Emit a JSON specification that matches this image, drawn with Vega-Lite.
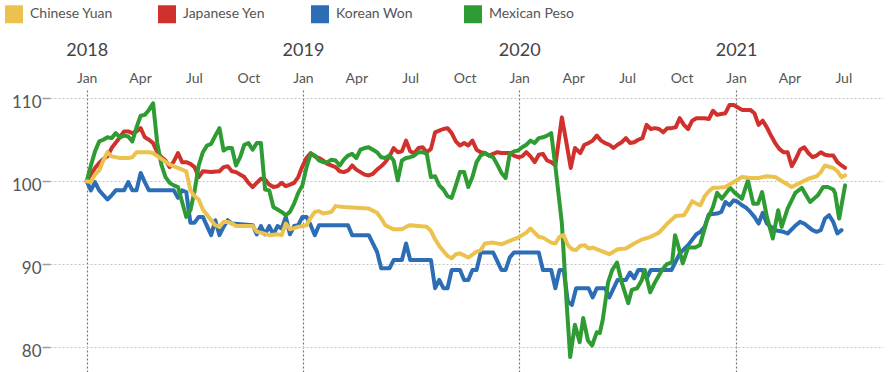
{
 "$schema": "https://vega.github.io/schema/vega-lite/v6.json",
 "width": 833,
 "height": 282,
 "autosize": {"type": "none"},
 "padding": {"left": 50, "top": 90, "right": 9, "bottom": 0},
 "background": "white",
 "config": {"view": {"stroke": null}, "font": "Lato"},
 "data": {"values": [
{"s":"Korean Won","d":"2018-01-01","v":100},
{"s":"Korean Won","d":"2018-01-08","v":98.9},
{"s":"Korean Won","d":"2018-01-15","v":99.9},
{"s":"Korean Won","d":"2018-01-22","v":98.9},
{"s":"Korean Won","d":"2018-02-05","v":97.8},
{"s":"Korean Won","d":"2018-02-12","v":98.3},
{"s":"Korean Won","d":"2018-02-19","v":98.9},
{"s":"Korean Won","d":"2018-03-05","v":98.9},
{"s":"Korean Won","d":"2018-03-12","v":99.9},
{"s":"Korean Won","d":"2018-03-19","v":98.9},
{"s":"Korean Won","d":"2018-03-26","v":98.9},
{"s":"Korean Won","d":"2018-04-02","v":101},
{"s":"Korean Won","d":"2018-04-09","v":99.9},
{"s":"Korean Won","d":"2018-04-16","v":98.9},
{"s":"Korean Won","d":"2018-05-28","v":98.9},
{"s":"Korean Won","d":"2018-06-04","v":98},
{"s":"Korean Won","d":"2018-06-11","v":98.9},
{"s":"Korean Won","d":"2018-06-18","v":98.7},
{"s":"Korean Won","d":"2018-06-25","v":95},
{"s":"Korean Won","d":"2018-07-02","v":95},
{"s":"Korean Won","d":"2018-07-09","v":95.7},
{"s":"Korean Won","d":"2018-07-16","v":95.7},
{"s":"Korean Won","d":"2018-07-30","v":93.5},
{"s":"Korean Won","d":"2018-08-06","v":95.3},
{"s":"Korean Won","d":"2018-08-13","v":93.5},
{"s":"Korean Won","d":"2018-08-20","v":94.5},
{"s":"Korean Won","d":"2018-08-27","v":95.3},
{"s":"Korean Won","d":"2018-09-03","v":94.9},
{"s":"Korean Won","d":"2018-10-08","v":94.7},
{"s":"Korean Won","d":"2018-10-15","v":93.6},
{"s":"Korean Won","d":"2018-10-22","v":94.6},
{"s":"Korean Won","d":"2018-10-29","v":93.6},
{"s":"Korean Won","d":"2018-11-05","v":94.6},
{"s":"Korean Won","d":"2018-11-12","v":93.6},
{"s":"Korean Won","d":"2018-11-19","v":94.6},
{"s":"Korean Won","d":"2018-11-26","v":94.3},
{"s":"Korean Won","d":"2018-12-03","v":95.7},
{"s":"Korean Won","d":"2018-12-10","v":93.6},
{"s":"Korean Won","d":"2018-12-17","v":94.6},
{"s":"Korean Won","d":"2018-12-24","v":94.7},
{"s":"Korean Won","d":"2018-12-31","v":95.7},
{"s":"Korean Won","d":"2019-01-07","v":95.7},
{"s":"Korean Won","d":"2019-01-14","v":94.7},
{"s":"Korean Won","d":"2019-01-21","v":93.5},
{"s":"Korean Won","d":"2019-01-28","v":94.7},
{"s":"Korean Won","d":"2019-03-18","v":94.7},
{"s":"Korean Won","d":"2019-03-25","v":93.5},
{"s":"Korean Won","d":"2019-04-22","v":93.5},
{"s":"Korean Won","d":"2019-05-06","v":91.5},
{"s":"Korean Won","d":"2019-05-13","v":89.5},
{"s":"Korean Won","d":"2019-05-27","v":89.5},
{"s":"Korean Won","d":"2019-06-03","v":90.5},
{"s":"Korean Won","d":"2019-06-17","v":90.5},
{"s":"Korean Won","d":"2019-06-24","v":92.5},
{"s":"Korean Won","d":"2019-07-01","v":90.5},
{"s":"Korean Won","d":"2019-08-05","v":90.5},
{"s":"Korean Won","d":"2019-08-12","v":87.1},
{"s":"Korean Won","d":"2019-08-19","v":88.1},
{"s":"Korean Won","d":"2019-08-26","v":87.1},
{"s":"Korean Won","d":"2019-09-02","v":87.1},
{"s":"Korean Won","d":"2019-09-09","v":89.3},
{"s":"Korean Won","d":"2019-09-23","v":89.3},
{"s":"Korean Won","d":"2019-09-30","v":88.1},
{"s":"Korean Won","d":"2019-10-07","v":88.1},
{"s":"Korean Won","d":"2019-10-14","v":89.3},
{"s":"Korean Won","d":"2019-10-21","v":89.3},
{"s":"Korean Won","d":"2019-10-28","v":91.4},
{"s":"Korean Won","d":"2019-11-18","v":91.4},
{"s":"Korean Won","d":"2019-12-02","v":89.3},
{"s":"Korean Won","d":"2019-12-09","v":89.3},
{"s":"Korean Won","d":"2019-12-16","v":90.8},
{"s":"Korean Won","d":"2019-12-23","v":91.4},
{"s":"Korean Won","d":"2020-02-03","v":91.4},
{"s":"Korean Won","d":"2020-02-10","v":89.3},
{"s":"Korean Won","d":"2020-02-24","v":89.3},
{"s":"Korean Won","d":"2020-03-02","v":87.1},
{"s":"Korean Won","d":"2020-03-09","v":89.3},
{"s":"Korean Won","d":"2020-03-16","v":89.3},
{"s":"Korean Won","d":"2020-03-23","v":85.5},
{"s":"Korean Won","d":"2020-03-30","v":85.1},
{"s":"Korean Won","d":"2020-04-06","v":87.1},
{"s":"Korean Won","d":"2020-04-27","v":87.1},
{"s":"Korean Won","d":"2020-05-04","v":86},
{"s":"Korean Won","d":"2020-05-11","v":87.1},
{"s":"Korean Won","d":"2020-05-25","v":87.1},
{"s":"Korean Won","d":"2020-06-01","v":86},
{"s":"Korean Won","d":"2020-06-15","v":88.1},
{"s":"Korean Won","d":"2020-06-29","v":88.1},
{"s":"Korean Won","d":"2020-07-06","v":89},
{"s":"Korean Won","d":"2020-07-13","v":88.3},
{"s":"Korean Won","d":"2020-07-20","v":89.3},
{"s":"Korean Won","d":"2020-07-27","v":89.3},
{"s":"Korean Won","d":"2020-08-03","v":88.3},
{"s":"Korean Won","d":"2020-08-10","v":89.3},
{"s":"Korean Won","d":"2020-09-14","v":89.3},
{"s":"Korean Won","d":"2020-09-21","v":90.3},
{"s":"Korean Won","d":"2020-09-28","v":91.3},
{"s":"Korean Won","d":"2020-10-05","v":91.8},
{"s":"Korean Won","d":"2020-10-12","v":92.3},
{"s":"Korean Won","d":"2020-10-26","v":93.6},
{"s":"Korean Won","d":"2020-11-02","v":93.9},
{"s":"Korean Won","d":"2020-11-09","v":94.5},
{"s":"Korean Won","d":"2020-11-16","v":96},
{"s":"Korean Won","d":"2020-11-30","v":96.1},
{"s":"Korean Won","d":"2020-12-07","v":96.3},
{"s":"Korean Won","d":"2020-12-14","v":97.5},
{"s":"Korean Won","d":"2020-12-21","v":97.1},
{"s":"Korean Won","d":"2020-12-28","v":97.7},
{"s":"Korean Won","d":"2021-01-04","v":97.5},
{"s":"Korean Won","d":"2021-01-11","v":97.1},
{"s":"Korean Won","d":"2021-01-18","v":96.8},
{"s":"Korean Won","d":"2021-01-25","v":96.3},
{"s":"Korean Won","d":"2021-02-01","v":95.7},
{"s":"Korean Won","d":"2021-02-08","v":94.9},
{"s":"Korean Won","d":"2021-02-15","v":96.2},
{"s":"Korean Won","d":"2021-02-22","v":94.9},
{"s":"Korean Won","d":"2021-03-01","v":94.5},
{"s":"Korean Won","d":"2021-03-08","v":94.1},
{"s":"Korean Won","d":"2021-03-22","v":93.9},
{"s":"Korean Won","d":"2021-03-29","v":93.7},
{"s":"Korean Won","d":"2021-04-12","v":94.7},
{"s":"Korean Won","d":"2021-04-19","v":95.1},
{"s":"Korean Won","d":"2021-04-26","v":94.9},
{"s":"Korean Won","d":"2021-05-03","v":94.5},
{"s":"Korean Won","d":"2021-05-10","v":94.1},
{"s":"Korean Won","d":"2021-05-17","v":93.9},
{"s":"Korean Won","d":"2021-05-24","v":94.1},
{"s":"Korean Won","d":"2021-05-31","v":95.5},
{"s":"Korean Won","d":"2021-06-07","v":95.9},
{"s":"Korean Won","d":"2021-06-14","v":95.1},
{"s":"Korean Won","d":"2021-06-21","v":93.7},
{"s":"Korean Won","d":"2021-06-28","v":94.1},
{"s":"Japanese Yen","d":"2018-01-01","v":100},
{"s":"Japanese Yen","d":"2018-01-15","v":101.6},
{"s":"Japanese Yen","d":"2018-01-22","v":102.2},
{"s":"Japanese Yen","d":"2018-01-29","v":102.7},
{"s":"Japanese Yen","d":"2018-02-05","v":103},
{"s":"Japanese Yen","d":"2018-02-12","v":104},
{"s":"Japanese Yen","d":"2018-02-26","v":105.3},
{"s":"Japanese Yen","d":"2018-03-05","v":106},
{"s":"Japanese Yen","d":"2018-03-12","v":106},
{"s":"Japanese Yen","d":"2018-03-19","v":105.8},
{"s":"Japanese Yen","d":"2018-03-26","v":106},
{"s":"Japanese Yen","d":"2018-04-02","v":106.4},
{"s":"Japanese Yen","d":"2018-04-09","v":105.3},
{"s":"Japanese Yen","d":"2018-04-16","v":105},
{"s":"Japanese Yen","d":"2018-04-23","v":104.6},
{"s":"Japanese Yen","d":"2018-04-30","v":103.5},
{"s":"Japanese Yen","d":"2018-05-07","v":102.9},
{"s":"Japanese Yen","d":"2018-05-14","v":102.5},
{"s":"Japanese Yen","d":"2018-05-21","v":101.7},
{"s":"Japanese Yen","d":"2018-05-28","v":102.4},
{"s":"Japanese Yen","d":"2018-06-04","v":103.4},
{"s":"Japanese Yen","d":"2018-06-11","v":102.3},
{"s":"Japanese Yen","d":"2018-06-18","v":102.3},
{"s":"Japanese Yen","d":"2018-06-25","v":102.1},
{"s":"Japanese Yen","d":"2018-07-02","v":101.7},
{"s":"Japanese Yen","d":"2018-07-09","v":100.5},
{"s":"Japanese Yen","d":"2018-07-16","v":101.2},
{"s":"Japanese Yen","d":"2018-07-30","v":101.1},
{"s":"Japanese Yen","d":"2018-08-13","v":101.2},
{"s":"Japanese Yen","d":"2018-08-20","v":101.7},
{"s":"Japanese Yen","d":"2018-08-27","v":101.8},
{"s":"Japanese Yen","d":"2018-09-03","v":101.2},
{"s":"Japanese Yen","d":"2018-09-10","v":101.1},
{"s":"Japanese Yen","d":"2018-09-24","v":100.5},
{"s":"Japanese Yen","d":"2018-10-01","v":99.8},
{"s":"Japanese Yen","d":"2018-10-08","v":99.3},
{"s":"Japanese Yen","d":"2018-10-15","v":99.8},
{"s":"Japanese Yen","d":"2018-10-22","v":100.3},
{"s":"Japanese Yen","d":"2018-10-29","v":100.2},
{"s":"Japanese Yen","d":"2018-11-05","v":99.6},
{"s":"Japanese Yen","d":"2018-11-12","v":99.3},
{"s":"Japanese Yen","d":"2018-11-19","v":99.4},
{"s":"Japanese Yen","d":"2018-11-26","v":99.8},
{"s":"Japanese Yen","d":"2018-12-03","v":99.4},
{"s":"Japanese Yen","d":"2018-12-10","v":99.6},
{"s":"Japanese Yen","d":"2018-12-17","v":99.8},
{"s":"Japanese Yen","d":"2018-12-24","v":100.5},
{"s":"Japanese Yen","d":"2018-12-31","v":101.8},
{"s":"Japanese Yen","d":"2019-01-07","v":102.8},
{"s":"Japanese Yen","d":"2019-01-14","v":103.4},
{"s":"Japanese Yen","d":"2019-01-21","v":103},
{"s":"Japanese Yen","d":"2019-01-28","v":102.8},
{"s":"Japanese Yen","d":"2019-02-04","v":102.5},
{"s":"Japanese Yen","d":"2019-02-11","v":102.1},
{"s":"Japanese Yen","d":"2019-02-25","v":101.7},
{"s":"Japanese Yen","d":"2019-03-04","v":101.2},
{"s":"Japanese Yen","d":"2019-03-11","v":101.1},
{"s":"Japanese Yen","d":"2019-03-18","v":101.3},
{"s":"Japanese Yen","d":"2019-03-25","v":101.9},
{"s":"Japanese Yen","d":"2019-04-01","v":101.4},
{"s":"Japanese Yen","d":"2019-04-08","v":101.1},
{"s":"Japanese Yen","d":"2019-04-15","v":100.8},
{"s":"Japanese Yen","d":"2019-04-22","v":100.7},
{"s":"Japanese Yen","d":"2019-04-29","v":100.9},
{"s":"Japanese Yen","d":"2019-05-06","v":101.4},
{"s":"Japanese Yen","d":"2019-05-13","v":101.8},
{"s":"Japanese Yen","d":"2019-05-20","v":102.3},
{"s":"Japanese Yen","d":"2019-05-27","v":103},
{"s":"Japanese Yen","d":"2019-06-03","v":104},
{"s":"Japanese Yen","d":"2019-06-10","v":103.5},
{"s":"Japanese Yen","d":"2019-06-17","v":103.6},
{"s":"Japanese Yen","d":"2019-06-24","v":104.9},
{"s":"Japanese Yen","d":"2019-07-01","v":103.6},
{"s":"Japanese Yen","d":"2019-07-08","v":103.4},
{"s":"Japanese Yen","d":"2019-07-15","v":104},
{"s":"Japanese Yen","d":"2019-07-22","v":104.1},
{"s":"Japanese Yen","d":"2019-07-29","v":103.5},
{"s":"Japanese Yen","d":"2019-08-05","v":103.9},
{"s":"Japanese Yen","d":"2019-08-12","v":105.9},
{"s":"Japanese Yen","d":"2019-08-19","v":106.1},
{"s":"Japanese Yen","d":"2019-08-26","v":106.3},
{"s":"Japanese Yen","d":"2019-09-02","v":106.4},
{"s":"Japanese Yen","d":"2019-09-09","v":105.8},
{"s":"Japanese Yen","d":"2019-09-16","v":104.8},
{"s":"Japanese Yen","d":"2019-09-23","v":104.3},
{"s":"Japanese Yen","d":"2019-09-30","v":104.6},
{"s":"Japanese Yen","d":"2019-10-07","v":104.3},
{"s":"Japanese Yen","d":"2019-10-14","v":104.9},
{"s":"Japanese Yen","d":"2019-10-21","v":103.8},
{"s":"Japanese Yen","d":"2019-10-28","v":103.5},
{"s":"Japanese Yen","d":"2019-11-04","v":103.4},
{"s":"Japanese Yen","d":"2019-11-11","v":103.1},
{"s":"Japanese Yen","d":"2019-11-18","v":103.3},
{"s":"Japanese Yen","d":"2019-11-25","v":103.5},
{"s":"Japanese Yen","d":"2019-12-02","v":103.4},
{"s":"Japanese Yen","d":"2019-12-16","v":103.4},
{"s":"Japanese Yen","d":"2019-12-23","v":103.1},
{"s":"Japanese Yen","d":"2019-12-30","v":102.9},
{"s":"Japanese Yen","d":"2020-01-06","v":103},
{"s":"Japanese Yen","d":"2020-01-13","v":103.5},
{"s":"Japanese Yen","d":"2020-01-20","v":103},
{"s":"Japanese Yen","d":"2020-01-27","v":102.3},
{"s":"Japanese Yen","d":"2020-02-03","v":103.2},
{"s":"Japanese Yen","d":"2020-02-10","v":103.3},
{"s":"Japanese Yen","d":"2020-02-17","v":102.5},
{"s":"Japanese Yen","d":"2020-02-24","v":102.3},
{"s":"Japanese Yen","d":"2020-03-02","v":101.9},
{"s":"Japanese Yen","d":"2020-03-13","v":107.7},
{"s":"Japanese Yen","d":"2020-03-21","v":104.5},
{"s":"Japanese Yen","d":"2020-03-28","v":101.6},
{"s":"Japanese Yen","d":"2020-04-04","v":104},
{"s":"Japanese Yen","d":"2020-04-13","v":103.4},
{"s":"Japanese Yen","d":"2020-04-20","v":104.4},
{"s":"Japanese Yen","d":"2020-04-27","v":104.6},
{"s":"Japanese Yen","d":"2020-05-04","v":104.9},
{"s":"Japanese Yen","d":"2020-05-11","v":105.5},
{"s":"Japanese Yen","d":"2020-05-18","v":104.9},
{"s":"Japanese Yen","d":"2020-05-25","v":104.6},
{"s":"Japanese Yen","d":"2020-06-01","v":104.4},
{"s":"Japanese Yen","d":"2020-06-08","v":104},
{"s":"Japanese Yen","d":"2020-06-15","v":104.4},
{"s":"Japanese Yen","d":"2020-06-22","v":104.7},
{"s":"Japanese Yen","d":"2020-06-29","v":105.2},
{"s":"Japanese Yen","d":"2020-07-06","v":104.6},
{"s":"Japanese Yen","d":"2020-07-13","v":104.7},
{"s":"Japanese Yen","d":"2020-07-20","v":105},
{"s":"Japanese Yen","d":"2020-07-27","v":105.2},
{"s":"Japanese Yen","d":"2020-08-03","v":106.8},
{"s":"Japanese Yen","d":"2020-08-10","v":106.3},
{"s":"Japanese Yen","d":"2020-08-17","v":106.4},
{"s":"Japanese Yen","d":"2020-08-24","v":106.3},
{"s":"Japanese Yen","d":"2020-08-31","v":105.9},
{"s":"Japanese Yen","d":"2020-09-07","v":106.4},
{"s":"Japanese Yen","d":"2020-09-14","v":106.4},
{"s":"Japanese Yen","d":"2020-09-21","v":106.5},
{"s":"Japanese Yen","d":"2020-09-28","v":107.6},
{"s":"Japanese Yen","d":"2020-10-05","v":106.8},
{"s":"Japanese Yen","d":"2020-10-12","v":106.3},
{"s":"Japanese Yen","d":"2020-10-19","v":107.3},
{"s":"Japanese Yen","d":"2020-10-26","v":107.6},
{"s":"Japanese Yen","d":"2020-11-02","v":107.6},
{"s":"Japanese Yen","d":"2020-11-09","v":107.6},
{"s":"Japanese Yen","d":"2020-11-16","v":107.5},
{"s":"Japanese Yen","d":"2020-11-23","v":108.5},
{"s":"Japanese Yen","d":"2020-11-30","v":108},
{"s":"Japanese Yen","d":"2020-12-07","v":108.1},
{"s":"Japanese Yen","d":"2020-12-14","v":108.2},
{"s":"Japanese Yen","d":"2020-12-21","v":109.2},
{"s":"Japanese Yen","d":"2020-12-28","v":109.2},
{"s":"Japanese Yen","d":"2021-01-04","v":108.9},
{"s":"Japanese Yen","d":"2021-01-11","v":108.6},
{"s":"Japanese Yen","d":"2021-01-18","v":108.6},
{"s":"Japanese Yen","d":"2021-01-25","v":108.6},
{"s":"Japanese Yen","d":"2021-02-01","v":108.2},
{"s":"Japanese Yen","d":"2021-02-08","v":106.8},
{"s":"Japanese Yen","d":"2021-02-15","v":107.3},
{"s":"Japanese Yen","d":"2021-02-22","v":106.5},
{"s":"Japanese Yen","d":"2021-03-01","v":105.5},
{"s":"Japanese Yen","d":"2021-03-08","v":104.6},
{"s":"Japanese Yen","d":"2021-03-15","v":103.9},
{"s":"Japanese Yen","d":"2021-03-22","v":103.5},
{"s":"Japanese Yen","d":"2021-03-29","v":103.5},
{"s":"Japanese Yen","d":"2021-04-05","v":101.8},
{"s":"Japanese Yen","d":"2021-04-12","v":102.7},
{"s":"Japanese Yen","d":"2021-04-19","v":103.8},
{"s":"Japanese Yen","d":"2021-04-26","v":104.1},
{"s":"Japanese Yen","d":"2021-05-03","v":103.4},
{"s":"Japanese Yen","d":"2021-05-10","v":102.9},
{"s":"Japanese Yen","d":"2021-05-17","v":103.1},
{"s":"Japanese Yen","d":"2021-05-24","v":103.5},
{"s":"Japanese Yen","d":"2021-05-31","v":103.2},
{"s":"Japanese Yen","d":"2021-06-07","v":103.1},
{"s":"Japanese Yen","d":"2021-06-14","v":103.1},
{"s":"Japanese Yen","d":"2021-06-21","v":102.3},
{"s":"Japanese Yen","d":"2021-06-28","v":101.9},
{"s":"Japanese Yen","d":"2021-07-04","v":101.6},
{"s":"Mexican Peso","d":"2018-01-01","v":100},
{"s":"Mexican Peso","d":"2018-01-08","v":101.9},
{"s":"Mexican Peso","d":"2018-01-15","v":103.6},
{"s":"Mexican Peso","d":"2018-01-22","v":104.8},
{"s":"Mexican Peso","d":"2018-01-29","v":105},
{"s":"Mexican Peso","d":"2018-02-05","v":105.3},
{"s":"Mexican Peso","d":"2018-02-12","v":105.2},
{"s":"Mexican Peso","d":"2018-02-19","v":105.8},
{"s":"Mexican Peso","d":"2018-02-26","v":105.3},
{"s":"Mexican Peso","d":"2018-03-05","v":105.5},
{"s":"Mexican Peso","d":"2018-03-12","v":105.4},
{"s":"Mexican Peso","d":"2018-03-19","v":104.8},
{"s":"Mexican Peso","d":"2018-03-26","v":106.5},
{"s":"Mexican Peso","d":"2018-04-02","v":107.9},
{"s":"Mexican Peso","d":"2018-04-09","v":108},
{"s":"Mexican Peso","d":"2018-04-16","v":108.6},
{"s":"Mexican Peso","d":"2018-04-23","v":109.4},
{"s":"Mexican Peso","d":"2018-04-30","v":104.6},
{"s":"Mexican Peso","d":"2018-05-07","v":102},
{"s":"Mexican Peso","d":"2018-05-14","v":100.5},
{"s":"Mexican Peso","d":"2018-05-21","v":99.8},
{"s":"Mexican Peso","d":"2018-05-28","v":99.5},
{"s":"Mexican Peso","d":"2018-06-04","v":99.3},
{"s":"Mexican Peso","d":"2018-06-11","v":97.5},
{"s":"Mexican Peso","d":"2018-06-18","v":95.7},
{"s":"Mexican Peso","d":"2018-06-25","v":96.5},
{"s":"Mexican Peso","d":"2018-07-02","v":98.8},
{"s":"Mexican Peso","d":"2018-07-09","v":101.9},
{"s":"Mexican Peso","d":"2018-07-16","v":103.5},
{"s":"Mexican Peso","d":"2018-07-23","v":104.3},
{"s":"Mexican Peso","d":"2018-07-30","v":104.5},
{"s":"Mexican Peso","d":"2018-08-06","v":105.5},
{"s":"Mexican Peso","d":"2018-08-13","v":106.4},
{"s":"Mexican Peso","d":"2018-08-20","v":103.7},
{"s":"Mexican Peso","d":"2018-08-27","v":104},
{"s":"Mexican Peso","d":"2018-09-03","v":104},
{"s":"Mexican Peso","d":"2018-09-10","v":101.9},
{"s":"Mexican Peso","d":"2018-09-17","v":102.9},
{"s":"Mexican Peso","d":"2018-09-24","v":104.4},
{"s":"Mexican Peso","d":"2018-10-01","v":104.6},
{"s":"Mexican Peso","d":"2018-10-08","v":103.8},
{"s":"Mexican Peso","d":"2018-10-15","v":104.6},
{"s":"Mexican Peso","d":"2018-10-22","v":104.6},
{"s":"Mexican Peso","d":"2018-10-29","v":99},
{"s":"Mexican Peso","d":"2018-11-05","v":98.9},
{"s":"Mexican Peso","d":"2018-11-12","v":96.9},
{"s":"Mexican Peso","d":"2018-11-19","v":96.6},
{"s":"Mexican Peso","d":"2018-11-26","v":96.3},
{"s":"Mexican Peso","d":"2018-12-03","v":95.9},
{"s":"Mexican Peso","d":"2018-12-10","v":96.3},
{"s":"Mexican Peso","d":"2018-12-17","v":97.3},
{"s":"Mexican Peso","d":"2018-12-24","v":98.6},
{"s":"Mexican Peso","d":"2018-12-31","v":99.5},
{"s":"Mexican Peso","d":"2019-01-07","v":101.7},
{"s":"Mexican Peso","d":"2019-01-14","v":103.3},
{"s":"Mexican Peso","d":"2019-01-21","v":103.1},
{"s":"Mexican Peso","d":"2019-01-28","v":102.5},
{"s":"Mexican Peso","d":"2019-02-04","v":102.3},
{"s":"Mexican Peso","d":"2019-02-11","v":102.3},
{"s":"Mexican Peso","d":"2019-02-18","v":102.6},
{"s":"Mexican Peso","d":"2019-02-25","v":102.5},
{"s":"Mexican Peso","d":"2019-03-04","v":101.9},
{"s":"Mexican Peso","d":"2019-03-11","v":102.6},
{"s":"Mexican Peso","d":"2019-03-18","v":103.1},
{"s":"Mexican Peso","d":"2019-03-25","v":103.3},
{"s":"Mexican Peso","d":"2019-04-01","v":102.8},
{"s":"Mexican Peso","d":"2019-04-08","v":103.8},
{"s":"Mexican Peso","d":"2019-04-15","v":104},
{"s":"Mexican Peso","d":"2019-04-22","v":104.1},
{"s":"Mexican Peso","d":"2019-04-29","v":103.8},
{"s":"Mexican Peso","d":"2019-05-06","v":103.5},
{"s":"Mexican Peso","d":"2019-05-13","v":102.9},
{"s":"Mexican Peso","d":"2019-05-20","v":102.8},
{"s":"Mexican Peso","d":"2019-05-27","v":103.1},
{"s":"Mexican Peso","d":"2019-06-03","v":102.5},
{"s":"Mexican Peso","d":"2019-06-10","v":100.1},
{"s":"Mexican Peso","d":"2019-06-17","v":102.5},
{"s":"Mexican Peso","d":"2019-06-24","v":102.8},
{"s":"Mexican Peso","d":"2019-07-01","v":102.9},
{"s":"Mexican Peso","d":"2019-07-08","v":103.1},
{"s":"Mexican Peso","d":"2019-07-15","v":103.5},
{"s":"Mexican Peso","d":"2019-07-22","v":103.5},
{"s":"Mexican Peso","d":"2019-07-29","v":103.3},
{"s":"Mexican Peso","d":"2019-08-05","v":100.5},
{"s":"Mexican Peso","d":"2019-08-12","v":100.6},
{"s":"Mexican Peso","d":"2019-08-19","v":99.5},
{"s":"Mexican Peso","d":"2019-08-26","v":99},
{"s":"Mexican Peso","d":"2019-09-02","v":98.2},
{"s":"Mexican Peso","d":"2019-09-09","v":98},
{"s":"Mexican Peso","d":"2019-09-16","v":99.5},
{"s":"Mexican Peso","d":"2019-09-23","v":101.1},
{"s":"Mexican Peso","d":"2019-09-30","v":101.1},
{"s":"Mexican Peso","d":"2019-10-07","v":99.3},
{"s":"Mexican Peso","d":"2019-10-14","v":100.5},
{"s":"Mexican Peso","d":"2019-10-21","v":102.3},
{"s":"Mexican Peso","d":"2019-10-28","v":103.1},
{"s":"Mexican Peso","d":"2019-11-04","v":103.4},
{"s":"Mexican Peso","d":"2019-11-11","v":103.1},
{"s":"Mexican Peso","d":"2019-11-18","v":102.9},
{"s":"Mexican Peso","d":"2019-11-25","v":102},
{"s":"Mexican Peso","d":"2019-12-02","v":101},
{"s":"Mexican Peso","d":"2019-12-09","v":100.4},
{"s":"Mexican Peso","d":"2019-12-16","v":103.3},
{"s":"Mexican Peso","d":"2019-12-23","v":103.6},
{"s":"Mexican Peso","d":"2019-12-30","v":103.7},
{"s":"Mexican Peso","d":"2020-01-06","v":104.1},
{"s":"Mexican Peso","d":"2020-01-13","v":104.4},
{"s":"Mexican Peso","d":"2020-01-20","v":104.9},
{"s":"Mexican Peso","d":"2020-01-27","v":104.6},
{"s":"Mexican Peso","d":"2020-02-03","v":105.2},
{"s":"Mexican Peso","d":"2020-02-10","v":105.3},
{"s":"Mexican Peso","d":"2020-02-17","v":105.5},
{"s":"Mexican Peso","d":"2020-02-24","v":105.8},
{"s":"Mexican Peso","d":"2020-03-02","v":101.8},
{"s":"Mexican Peso","d":"2020-03-13","v":94.9},
{"s":"Mexican Peso","d":"2020-03-21","v":85.3},
{"s":"Mexican Peso","d":"2020-03-27","v":78.8},
{"s":"Mexican Peso","d":"2020-04-04","v":82.7},
{"s":"Mexican Peso","d":"2020-04-12","v":80.6},
{"s":"Mexican Peso","d":"2020-04-18","v":83.5},
{"s":"Mexican Peso","d":"2020-04-26","v":80.8},
{"s":"Mexican Peso","d":"2020-05-03","v":80.2},
{"s":"Mexican Peso","d":"2020-05-11","v":81.8},
{"s":"Mexican Peso","d":"2020-05-16","v":81.7},
{"s":"Mexican Peso","d":"2020-05-21","v":83.3},
{"s":"Mexican Peso","d":"2020-05-30","v":87.8},
{"s":"Mexican Peso","d":"2020-06-06","v":89.3},
{"s":"Mexican Peso","d":"2020-06-14","v":90.2},
{"s":"Mexican Peso","d":"2020-06-22","v":87.8},
{"s":"Mexican Peso","d":"2020-07-03","v":85.3},
{"s":"Mexican Peso","d":"2020-07-09","v":86.9},
{"s":"Mexican Peso","d":"2020-07-18","v":87.1},
{"s":"Mexican Peso","d":"2020-07-26","v":88.1},
{"s":"Mexican Peso","d":"2020-07-31","v":89.3},
{"s":"Mexican Peso","d":"2020-08-09","v":86.6},
{"s":"Mexican Peso","d":"2020-08-17","v":87.8},
{"s":"Mexican Peso","d":"2020-08-29","v":89.3},
{"s":"Mexican Peso","d":"2020-09-06","v":90},
{"s":"Mexican Peso","d":"2020-09-15","v":90.2},
{"s":"Mexican Peso","d":"2020-09-20","v":93.5},
{"s":"Mexican Peso","d":"2020-09-25","v":92.3},
{"s":"Mexican Peso","d":"2020-10-03","v":90.1},
{"s":"Mexican Peso","d":"2020-10-12","v":92},
{"s":"Mexican Peso","d":"2020-10-24","v":92},
{"s":"Mexican Peso","d":"2020-11-01","v":92.3},
{"s":"Mexican Peso","d":"2020-11-13","v":95.3},
{"s":"Mexican Peso","d":"2020-11-23","v":96.9},
{"s":"Mexican Peso","d":"2020-11-30","v":98.6},
{"s":"Mexican Peso","d":"2020-12-08","v":97.9},
{"s":"Mexican Peso","d":"2020-12-22","v":99.2},
{"s":"Mexican Peso","d":"2020-12-30","v":98.6},
{"s":"Mexican Peso","d":"2021-01-11","v":97.9},
{"s":"Mexican Peso","d":"2021-01-21","v":100.1},
{"s":"Mexican Peso","d":"2021-01-30","v":97.3},
{"s":"Mexican Peso","d":"2021-02-07","v":97.3},
{"s":"Mexican Peso","d":"2021-02-14","v":98.7},
{"s":"Mexican Peso","d":"2021-02-22","v":95.7},
{"s":"Mexican Peso","d":"2021-03-04","v":93.1},
{"s":"Mexican Peso","d":"2021-03-13","v":96.5},
{"s":"Mexican Peso","d":"2021-03-19","v":94.5},
{"s":"Mexican Peso","d":"2021-03-29","v":96.7},
{"s":"Mexican Peso","d":"2021-04-11","v":98.6},
{"s":"Mexican Peso","d":"2021-04-22","v":99.2},
{"s":"Mexican Peso","d":"2021-05-06","v":97.5},
{"s":"Mexican Peso","d":"2021-05-19","v":98.3},
{"s":"Mexican Peso","d":"2021-05-28","v":99.3},
{"s":"Mexican Peso","d":"2021-06-05","v":99.3},
{"s":"Mexican Peso","d":"2021-06-14","v":99},
{"s":"Mexican Peso","d":"2021-06-17","v":98.6},
{"s":"Mexican Peso","d":"2021-06-24","v":95.5},
{"s":"Mexican Peso","d":"2021-07-04","v":99.5},
{"s":"Chinese Yuan","d":"2018-01-01","v":100},
{"s":"Chinese Yuan","d":"2018-01-08","v":99.9},
{"s":"Chinese Yuan","d":"2018-01-15","v":100.8},
{"s":"Chinese Yuan","d":"2018-01-22","v":101.3},
{"s":"Chinese Yuan","d":"2018-01-29","v":102.5},
{"s":"Chinese Yuan","d":"2018-02-05","v":103.5},
{"s":"Chinese Yuan","d":"2018-02-12","v":103},
{"s":"Chinese Yuan","d":"2018-02-26","v":102.8},
{"s":"Chinese Yuan","d":"2018-03-12","v":102.8},
{"s":"Chinese Yuan","d":"2018-03-19","v":102.9},
{"s":"Chinese Yuan","d":"2018-03-26","v":103.5},
{"s":"Chinese Yuan","d":"2018-04-16","v":103.5},
{"s":"Chinese Yuan","d":"2018-04-23","v":103.4},
{"s":"Chinese Yuan","d":"2018-05-07","v":102.7},
{"s":"Chinese Yuan","d":"2018-05-21","v":102},
{"s":"Chinese Yuan","d":"2018-06-04","v":101.6},
{"s":"Chinese Yuan","d":"2018-06-18","v":101.2},
{"s":"Chinese Yuan","d":"2018-06-25","v":98.9},
{"s":"Chinese Yuan","d":"2018-07-02","v":98.2},
{"s":"Chinese Yuan","d":"2018-07-09","v":97.8},
{"s":"Chinese Yuan","d":"2018-07-16","v":96.6},
{"s":"Chinese Yuan","d":"2018-07-30","v":95.3},
{"s":"Chinese Yuan","d":"2018-08-06","v":94.7},
{"s":"Chinese Yuan","d":"2018-08-13","v":94.5},
{"s":"Chinese Yuan","d":"2018-08-20","v":95.1},
{"s":"Chinese Yuan","d":"2018-08-27","v":95.1},
{"s":"Chinese Yuan","d":"2018-09-03","v":94.9},
{"s":"Chinese Yuan","d":"2018-09-10","v":94.6},
{"s":"Chinese Yuan","d":"2018-10-08","v":94.6},
{"s":"Chinese Yuan","d":"2018-10-15","v":93.9},
{"s":"Chinese Yuan","d":"2018-10-22","v":93.8},
{"s":"Chinese Yuan","d":"2018-11-05","v":93.5},
{"s":"Chinese Yuan","d":"2018-11-19","v":93.6},
{"s":"Chinese Yuan","d":"2018-11-26","v":93.5},
{"s":"Chinese Yuan","d":"2018-12-03","v":94.9},
{"s":"Chinese Yuan","d":"2018-12-10","v":94.2},
{"s":"Chinese Yuan","d":"2018-12-24","v":94.5},
{"s":"Chinese Yuan","d":"2019-01-07","v":94.7},
{"s":"Chinese Yuan","d":"2019-01-14","v":95.6},
{"s":"Chinese Yuan","d":"2019-01-21","v":96.3},
{"s":"Chinese Yuan","d":"2019-01-28","v":96.4},
{"s":"Chinese Yuan","d":"2019-02-04","v":96.1},
{"s":"Chinese Yuan","d":"2019-02-18","v":96.3},
{"s":"Chinese Yuan","d":"2019-02-25","v":97},
{"s":"Chinese Yuan","d":"2019-03-11","v":96.9},
{"s":"Chinese Yuan","d":"2019-04-22","v":96.7},
{"s":"Chinese Yuan","d":"2019-05-06","v":96.2},
{"s":"Chinese Yuan","d":"2019-05-13","v":95.5},
{"s":"Chinese Yuan","d":"2019-05-20","v":94.7},
{"s":"Chinese Yuan","d":"2019-06-03","v":94.2},
{"s":"Chinese Yuan","d":"2019-06-17","v":94.2},
{"s":"Chinese Yuan","d":"2019-06-24","v":94.5},
{"s":"Chinese Yuan","d":"2019-07-01","v":94.7},
{"s":"Chinese Yuan","d":"2019-07-29","v":94.5},
{"s":"Chinese Yuan","d":"2019-08-05","v":94},
{"s":"Chinese Yuan","d":"2019-08-12","v":93},
{"s":"Chinese Yuan","d":"2019-08-19","v":92.2},
{"s":"Chinese Yuan","d":"2019-08-26","v":91.6},
{"s":"Chinese Yuan","d":"2019-09-02","v":91},
{"s":"Chinese Yuan","d":"2019-09-09","v":90.7},
{"s":"Chinese Yuan","d":"2019-09-16","v":91.2},
{"s":"Chinese Yuan","d":"2019-09-23","v":91.3},
{"s":"Chinese Yuan","d":"2019-10-07","v":90.8},
{"s":"Chinese Yuan","d":"2019-10-21","v":91.5},
{"s":"Chinese Yuan","d":"2019-10-28","v":91.7},
{"s":"Chinese Yuan","d":"2019-11-04","v":92.5},
{"s":"Chinese Yuan","d":"2019-11-18","v":92.6},
{"s":"Chinese Yuan","d":"2019-12-02","v":92.4},
{"s":"Chinese Yuan","d":"2019-12-16","v":92.8},
{"s":"Chinese Yuan","d":"2019-12-30","v":93.2},
{"s":"Chinese Yuan","d":"2020-01-13","v":93.8},
{"s":"Chinese Yuan","d":"2020-01-20","v":94.3},
{"s":"Chinese Yuan","d":"2020-01-27","v":93.8},
{"s":"Chinese Yuan","d":"2020-02-03","v":93.3},
{"s":"Chinese Yuan","d":"2020-02-10","v":93.2},
{"s":"Chinese Yuan","d":"2020-02-17","v":92.9},
{"s":"Chinese Yuan","d":"2020-02-24","v":92.6},
{"s":"Chinese Yuan","d":"2020-03-02","v":92.5},
{"s":"Chinese Yuan","d":"2020-03-09","v":93.3},
{"s":"Chinese Yuan","d":"2020-03-16","v":93.5},
{"s":"Chinese Yuan","d":"2020-03-23","v":92.3},
{"s":"Chinese Yuan","d":"2020-03-30","v":91.8},
{"s":"Chinese Yuan","d":"2020-04-06","v":91.7},
{"s":"Chinese Yuan","d":"2020-04-13","v":92.2},
{"s":"Chinese Yuan","d":"2020-04-20","v":92.3},
{"s":"Chinese Yuan","d":"2020-04-27","v":91.9},
{"s":"Chinese Yuan","d":"2020-05-04","v":92},
{"s":"Chinese Yuan","d":"2020-05-18","v":91.6},
{"s":"Chinese Yuan","d":"2020-06-01","v":91.2},
{"s":"Chinese Yuan","d":"2020-06-15","v":91.8},
{"s":"Chinese Yuan","d":"2020-06-29","v":91.9},
{"s":"Chinese Yuan","d":"2020-07-13","v":92.5},
{"s":"Chinese Yuan","d":"2020-07-27","v":93},
{"s":"Chinese Yuan","d":"2020-08-10","v":93.3},
{"s":"Chinese Yuan","d":"2020-08-24","v":93.8},
{"s":"Chinese Yuan","d":"2020-09-07","v":94.9},
{"s":"Chinese Yuan","d":"2020-09-21","v":95.8},
{"s":"Chinese Yuan","d":"2020-10-05","v":95.9},
{"s":"Chinese Yuan","d":"2020-10-12","v":96.7},
{"s":"Chinese Yuan","d":"2020-10-19","v":97.6},
{"s":"Chinese Yuan","d":"2020-10-26","v":97.3},
{"s":"Chinese Yuan","d":"2020-11-02","v":97.1},
{"s":"Chinese Yuan","d":"2020-11-09","v":98.2},
{"s":"Chinese Yuan","d":"2020-11-16","v":98.8},
{"s":"Chinese Yuan","d":"2020-11-23","v":99.2},
{"s":"Chinese Yuan","d":"2020-11-30","v":99.2},
{"s":"Chinese Yuan","d":"2020-12-14","v":99.3},
{"s":"Chinese Yuan","d":"2020-12-28","v":99.9},
{"s":"Chinese Yuan","d":"2021-01-11","v":100.5},
{"s":"Chinese Yuan","d":"2021-01-25","v":100.4},
{"s":"Chinese Yuan","d":"2021-02-08","v":100.4},
{"s":"Chinese Yuan","d":"2021-02-22","v":100.6},
{"s":"Chinese Yuan","d":"2021-03-08","v":100.5},
{"s":"Chinese Yuan","d":"2021-03-22","v":99.9},
{"s":"Chinese Yuan","d":"2021-04-05","v":99.3},
{"s":"Chinese Yuan","d":"2021-04-19","v":99.8},
{"s":"Chinese Yuan","d":"2021-05-03","v":100.3},
{"s":"Chinese Yuan","d":"2021-05-17","v":100.6},
{"s":"Chinese Yuan","d":"2021-05-24","v":101.1},
{"s":"Chinese Yuan","d":"2021-05-31","v":101.9},
{"s":"Chinese Yuan","d":"2021-06-14","v":101.6},
{"s":"Chinese Yuan","d":"2021-06-21","v":101.2},
{"s":"Chinese Yuan","d":"2021-06-28","v":100.5},
{"s":"Chinese Yuan","d":"2021-07-04","v":100.7}
 ]},
 "layer": [
  {
   "mark": {"type": "line", "strokeWidth": 4, "strokeJoin": "round", "strokeCap": "round"},
   "encoding": {
    "x": {"field": "d", "type": "temporal",
     "scale": {"type": "utc", "domain": [{"year": 2017, "month": 10, "date": 31, "utc": true}, {"year": 2021, "month": 9, "date": 6, "utc": true}]},
     "axis": {"orient": "top", "title": null, "labelExpr": "utcFormat(datum.value, '%b')",
      "values": [
       {"year": 2018, "month": 1, "date": 1, "utc": true}, {"year": 2018, "month": 4, "date": 1, "utc": true}, {"year": 2018, "month": 7, "date": 1, "utc": true}, {"year": 2018, "month": 10, "date": 1, "utc": true},
       {"year": 2019, "month": 1, "date": 1, "utc": true}, {"year": 2019, "month": 4, "date": 1, "utc": true}, {"year": 2019, "month": 7, "date": 1, "utc": true}, {"year": 2019, "month": 10, "date": 1, "utc": true},
       {"year": 2020, "month": 1, "date": 1, "utc": true}, {"year": 2020, "month": 4, "date": 1, "utc": true}, {"year": 2020, "month": 7, "date": 1, "utc": true}, {"year": 2020, "month": 10, "date": 1, "utc": true},
       {"year": 2021, "month": 1, "date": 1, "utc": true}, {"year": 2021, "month": 4, "date": 1, "utc": true}, {"year": 2021, "month": 7, "date": 1, "utc": true}
      ],
      "domain": false, "ticks": false, "tickSize": 0, "grid": false,
      "labelFontSize": 14, "labelColor": "#555555", "labelPadding": 5, "labelFlush": false, "labelOverlap": false}},
    "y": {"field": "v", "type": "quantitative",
     "scale": {"domain": [77, 111], "nice": false, "zero": false},
     "axis": {"title": null, "values": [80, 90, 100, 110], "domain": false, "tickSize": 8, "tickColor": "#9a9a9a", "tickWidth": 1.5,
      "labelFontSize": 17, "labelColor": "#555555", "labelPadding": 1, "labelOffset": 4,
      "grid": true, "gridDash": [2, 2], "gridColor": "#c4c4c4", "gridWidth": 1}},
    "color": {"field": "s", "type": "nominal",
     "scale": {"domain": ["Chinese Yuan", "Japanese Yen", "Korean Won", "Mexican Peso"], "range": ["#EBC24E", "#D0312D", "#2C6DB6", "#2F9B33"]},
     "legend": {"orient": "none", "legendX": -45, "legendY": -85, "direction": "horizontal", "title": null,
      "symbolType": "square", "symbolSize": 81, "symbolStrokeWidth": 9, "symbolOpacity": 1,
      "labelFontSize": 14, "labelColor": "#555555", "labelOffset": 7, "columnPadding": 29, "gridAlign": "all"}}
   }
  },
  {
   "mark": {"type": "rule", "opacity": 0},
   "encoding": {
    "x": {"field": "d", "type": "temporal",
     "scale": {"type": "utc", "domain": [{"year": 2017, "month": 10, "date": 31, "utc": true}, {"year": 2021, "month": 9, "date": 6, "utc": true}]},
     "axis": {"orient": "top", "title": null, "labelExpr": "utcFormat(datum.value, '%Y')",
      "values": [{"year": 2018, "month": 1, "date": 1, "utc": true}, {"year": 2019, "month": 1, "date": 1, "utc": true}, {"year": 2020, "month": 1, "date": 1, "utc": true}, {"year": 2021, "month": 1, "date": 1, "utc": true}],
      "domain": false, "ticks": false, "tickSize": 0,
      "grid": true, "gridDash": [2, 2], "gridColor": "#777777", "gridWidth": 1.2,
      "labelFontSize": 18, "labelColor": "#444444", "labelPadding": 31, "labelFlush": false}}
   }
  }
 ],
 "resolve": {"axis": {"x": "independent"}}
}
